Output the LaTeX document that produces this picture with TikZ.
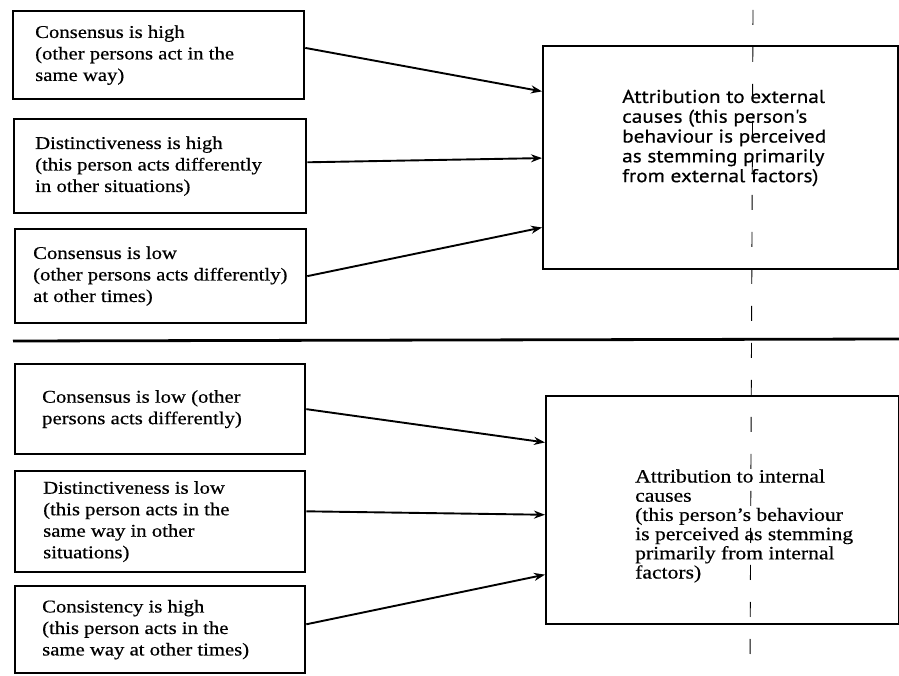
\documentclass[tikz,border=0pt]{standalone}
\usepackage{fontspec}
\setmainfont{Liberation Serif}[FakeStretch=1.15,FakeBold=0.5]
\newfontfamily\headsans{PT Sans}[FakeStretch=1.15,FakeBold=0.5]
\usetikzlibrary{arrows.meta,calc}

\tikzset{
  frame/.style={draw, line width=2.3pt, rectangle, anchor=north west, inner sep=0pt},
  cue/.style={anchor=west, align=left, inner sep=0pt,
    font=\fontsize{18}{21.5}\selectfont},
  verdict/.style={anchor=west, align=left, inner sep=0pt,
    font=\fontsize{18.8}{19.2}\selectfont},
  link/.style={line width=1.9pt, -{Stealth[length=11pt,width=8pt]}},
  rule/.style={line width=2.8pt},
  crease/.style={line width=0.9pt, dash pattern=on 15pt off 22pt}
}

\begin{document}
\begin{tikzpicture}[x=1pt,y=-1pt]
  \useasboundingbox (0,0) rectangle (899,676);
  \fill[white] (0,0) rectangle (899,676);

  % upper half: conditions leading to external attribution
  \node[frame, minimum width=291pt, minimum height=88pt] (hc) at (12,10) {};
  \node[frame, minimum width=292pt, minimum height=94pt] (hd) at (13,118) {};
  \node[frame, minimum width=291pt, minimum height=94pt] (lc) at (14,228) {};
  \node[frame, minimum width=355pt, minimum height=223pt] (ext) at (542,45) {};

  \node[cue] (hct) at ([xshift=23pt]hc.west)
    {Consensus is high\\(other persons act in the\\same way)};
  \node[cue] (hdt) at ([xshift=22pt]hd.west)
    {Distinctiveness is high\\(this person acts differently\\in other situations)};
  \node[cue] (lct) at ([xshift=19pt]lc.west)
    {Consensus is low\\(other persons acts differently)\\at other times)};
  \node[verdict, font=\headsans\fontsize{18.5}{19.8}\selectfont] (extt) at (622,138)
    {Attribution to external\\causes (this person's\\behaviour is perceived\\as stemming primarily\\from external factors)};

  \draw[link] ($(hc.north east)!0.42!(hc.south east)$) -- ($(ext.north west)!0.206!(ext.south west)$);
  \draw[link] ($(hd.north east)!0.46!(hd.south east)$) -- ($(ext.north west)!0.502!(ext.south west)$);
  \draw[link] ($(lc.north east)!0.50!(lc.south east)$) -- ($(ext.north west)!0.81!(ext.south west)$);

  % dividing rule
  \coordinate (ruleL) at (13,341);
  \coordinate (ruleR) at (899,339);
  \draw[rule] (ruleL) -- (ruleR);

  % lower half: conditions leading to internal attribution
  \node[frame, minimum width=290pt, minimum height=90pt] (ll) at (14,363) {};
  \node[frame, minimum width=290pt, minimum height=101pt] (ld) at (14,470) {};
  \node[frame, minimum width=290pt, minimum height=87pt] (hs) at (14,585) {};
  \node[frame, minimum width=353pt, minimum height=228pt] (int) at (545,395) {};

  \node[cue] (llt) at ([xshift=28pt]ll.west)
    {Consensus is low (other\\persons acts differently)};
  \node[cue] (ldt) at ([xshift=29pt]ld.west)
    {Distinctiveness is low\\(this person acts in the\\same way in other\\situations)};
  \node[cue] (hst) at ([xshift=28pt]hs.west)
    {Consistency is high\\(this person acts in the\\same way at other times)};
  \node[verdict] (intt) at (635,526)
    {Attribution to internal\\causes\\(this person's behaviour\\is perceived as stemming\\primarily from internal\\factors)};

  \draw[link] ($(ll.north east)!0.50!(ll.south east)$) -- ($(int.north west)!0.206!(int.south west)$);
  \draw[link] ($(ld.north east)!0.40!(ld.south east)$) -- ($(int.north west)!0.52!(int.south west)$);
  \draw[link] ($(hs.north east)!0.44!(hs.south east)$) -- ($(int.north west)!0.78!(int.south west)$);

  % fold crease running down the sheet
  \coordinate (creaseT) at (753,10);
  \coordinate (creaseB) at (750,672);
  \draw[crease] (creaseT) -- (creaseB);
\end{tikzpicture}
\end{document}
